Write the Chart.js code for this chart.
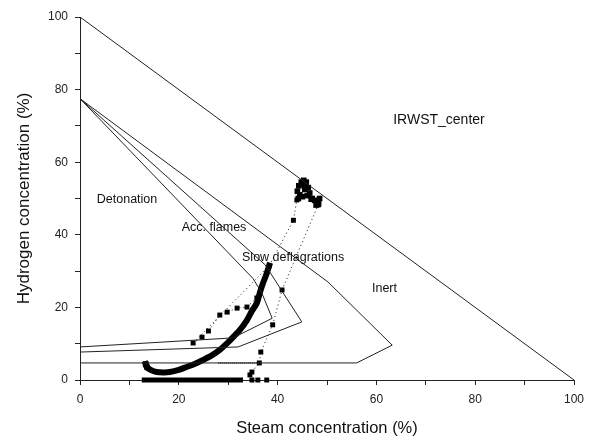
<!DOCTYPE html>
<html>
<head>
<meta charset="utf-8">
<script src="https://cdn.jsdelivr.net/npm/chart.js@4"></script>
<style>
  html, body { margin: 0; padding: 0; background: #fff; }
  #wrap { width: 593px; height: 442px; }
</style>
</head>
<body>
<div id="wrap"><canvas id="myChart" width="593" height="442"></canvas></div>
<script>
// boundary lines (steam %, hydrogen %)
const inertX = [0, 100];
const inertY = [100, 0];
const detonationX = [0, 35, 36.8, 38.9, 31, 0];
const detonationY = [77.5, 28, 24, 17, 11.6, 9.1];
const accFlamesX = [0, 37.5, 44.9, 32, 0];
const accFlamesY = [77.5, 31.7, 16, 9.1, 7.7];
const slowDeflX = [0, 50.2, 63.2, 56, 0];
const slowDeflY = [77.5, 27, 9.6, 4.7, 4.7];

// measured trajectory
const curveX = [13.3, 13.5, 14.3, 15.5, 17, 18.2, 20, 21.6, 23.3, 24.9, 26.6, 28.3, 29.7, 31, 32.5, 33.8, 34.8, 35.8, 36.4, 37, 37.7, 38.3];
const curveY = [4.4, 3.6, 2.8, 2.2, 2.1, 2.2, 2.8, 3.6, 4.5, 5.5, 6.7, 8.3, 10, 11.8, 14, 16.5, 19, 21.2, 24, 26.5, 29, 31.5];
const zeroRowX = [12.5, 15, 18, 21, 24, 27, 30, 33];
const zeroRowY = [0, 0, 0, 0, 0, 0, 0, 0];
const zeroDotsX = [34.8, 36, 37.8];
const zeroDotsY = [0, 0, 0];
const pathAX = [34.4, 34.8, 36.3, 36.6, 39, 40.9, 48.2];
const pathAY = [1.4, 2.2, 4.7, 7.7, 15.2, 24.8, 48.2];
const pathBX = [22.9, 24.7, 26, 28.3, 29.8, 31.8, 33.8, 35.8, 38.3, 43.2, 43.9];
const pathBY = [10.2, 11.8, 13.5, 17.9, 18.7, 19.8, 20.1, 22.6, 31.5, 44, 49.6];
const pathCX = [22.9, 38.3];
const pathCY = [10.2, 31.5];
const pathDX = [28, 36.3];
const pathDY = [4.7, 4.7];
const clusterX = [44, 44.3, 44.8, 45.3, 45.8, 44.5, 45, 46, 46.5, 47, 47.5, 48, 48.3, 47.8, 46.8, 45.5, 44.2, 48.5, 46.2, 45.2];
const clusterY = [52, 53.5, 54.5, 55, 54.5, 51, 50.5, 50.8, 51.5, 50, 49.5, 49, 48.5, 48.2, 49.8, 52.5, 50, 50, 53, 53.8];

// text labels
const regionNames = ['IRWST_center', 'Detonation', 'Acc. flames', 'Slow deflagrations', 'Inert'];
const regionX = [63.4, 3.4, 20.6, 32.8, 59.1];
const regionY = [71.6, 49.6, 41.9, 33.6, 25.3];

function pts(xs, ys) {
  return xs.map(function(x, i) { return { x: x, y: ys[i] }; });
}

function boundary(xs, ys) {
  return {
    data: pts(xs, ys),
    showLine: true,
    borderColor: '#222',
    borderWidth: 1,
    pointRadius: 0,
    tension: 0
  };
}

function squares(xs, ys, r) {
  return {
    data: pts(xs, ys), showLine: false, pointStyle: 'rect', pointRadius: r,
    pointBorderWidth: 0, backgroundColor: '#000', pointBorderColor: '#000', clip: false
  };
}

const labelPlugin = {
  id: 'regionLabels',
  afterDatasetsDraw(chart) {
    const ctx = chart.ctx;
    const xs = chart.scales.x, ys = chart.scales.y;
    ctx.save();
    ctx.fillStyle = '#111';
    ctx.textBaseline = 'middle';
    ctx.textAlign = 'left';
    for (let i = 0; i < regionNames.length; i++) {
      ctx.font = (i === 0 ? '14px' : '12.5px') + ' "Liberation Sans", Arial, sans-serif';
      ctx.fillText(regionNames[i], xs.getPixelForValue(regionX[i]), ys.getPixelForValue(regionY[i]));
    }
    ctx.restore();
  }
};

const tickFont = { family: '"Liberation Sans", Arial, sans-serif', size: 12 };

function axisTicks(v) {
  return v % 20 === 0 ? v : '';
}

const pathA = squares(pathAX, pathAY, 3.5);
pathA.showLine = true; pathA.borderColor = '#111'; pathA.borderWidth = 1; pathA.borderDash = [1, 3];
const pathB = squares(pathBX, pathBY, 3.5);
pathB.showLine = true; pathB.borderColor = '#111'; pathB.borderWidth = 1; pathB.borderDash = [1, 3];

new Chart(document.getElementById('myChart').getContext('2d'), {
  type: 'scatter',
  data: {
    datasets: [
      boundary(inertX, inertY),
      boundary(detonationX, detonationY),
      boundary(accFlamesX, accFlamesY),
      boundary(slowDeflX, slowDeflY),
      {
        data: pts(pathCX, pathCY), showLine: true, borderColor: '#111', borderWidth: 1,
        borderDash: [1, 3], pointRadius: 0
      },
      {
        data: pts(pathDX, pathDY), showLine: true, borderColor: '#111', borderWidth: 1.5,
        borderDash: [1, 1], pointRadius: 0
      },
      pathA,
      pathB,
      {
        data: pts(zeroRowX, zeroRowY), showLine: true, borderColor: '#000', borderWidth: 5,
        borderCapStyle: 'butt', pointRadius: 0, clip: false
      },
      squares(zeroDotsX, zeroDotsY, 3.5),
      {
        data: pts(curveX, curveY), showLine: true, borderColor: '#000', borderWidth: 6,
        borderCapStyle: 'square', pointRadius: 0, tension: 0.3, clip: false
      },
      squares([13.3, 13.6], [4.4, 3.5], 4),
      squares(clusterX, clusterY, 4)
    ]
  },
  options: {
    responsive: false,
    animation: false,
    layout: { padding: { top: 17, right: 19, bottom: 0, left: 0 } },
    plugins: { legend: { display: false }, tooltip: { enabled: false } },
    scales: {
      x: {
        type: 'linear', min: 0, max: 100,
        afterFit: function(scale) { scale.height = 62; },
        border: { display: true, color: '#222', width: 1 },
        grid: { drawOnChartArea: false, drawTicks: true, tickLength: 5, color: '#222' },
        ticks: { stepSize: 10, autoSkip: false, maxRotation: 0, padding: 7, color: '#222', font: tickFont, callback: axisTicks },
        title: { display: true, text: 'Steam concentration (%)', color: '#111', font: { family: '"Liberation Sans", Arial, sans-serif', size: 16.5 }, padding: { top: 0, bottom: 4 } }
      },
      y: {
        type: 'linear', min: 0, max: 100,
        afterFit: function(scale) { scale.width = 80; },
        border: { display: true, color: '#222', width: 1 },
        grid: { drawOnChartArea: false, drawTicks: true, tickLength: 5, color: '#222' },
        ticks: { stepSize: 10, autoSkip: false, padding: 7, color: '#222', font: tickFont, callback: axisTicks },
        title: { display: true, text: 'Hydrogen concentration (%)', color: '#111', font: { family: '"Liberation Sans", Arial, sans-serif', size: 17 }, padding: { top: 14, bottom: 0 } }
      }
    }
  },
  plugins: [labelPlugin]
});
</script>
</body>
</html>
